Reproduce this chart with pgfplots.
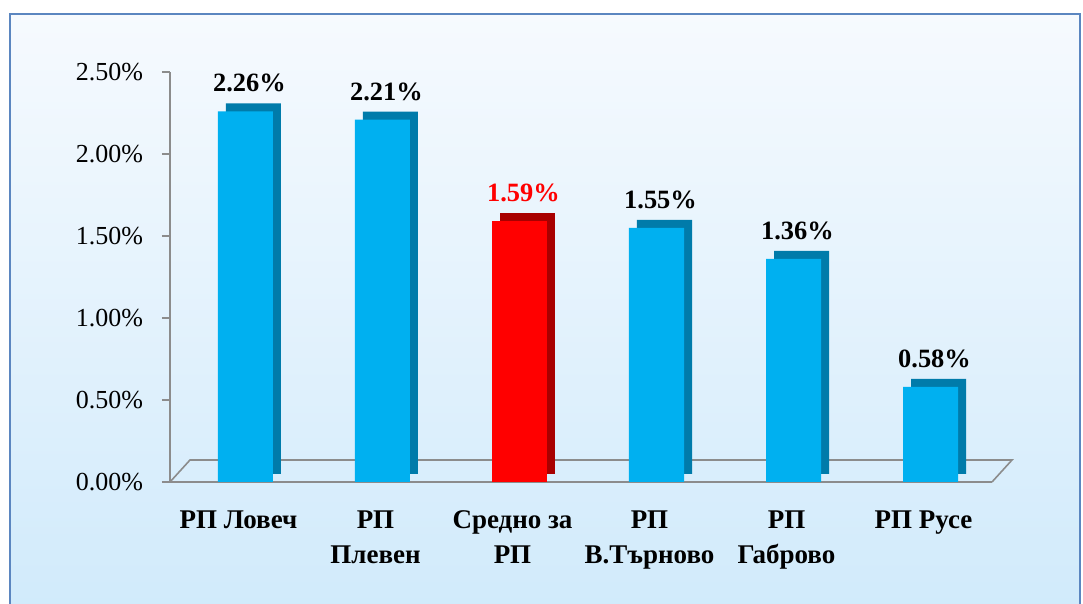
\documentclass[border=0pt]{standalone}
\usepackage{fontspec}
\setmainfont{Liberation Serif}
\usepackage{pgfplots}
\pgfplotsset{compat=1.18}
\definecolor{barblue}{HTML}{00B0F0}
\definecolor{sideblue}{HTML}{007BAA}
\definecolor{barred}{HTML}{FF0000}
\definecolor{sidered}{HTML}{A80000}
\definecolor{framecol}{HTML}{5B86C0}
\definecolor{bgtop}{HTML}{F6FAFE}
\definecolor{bgbot}{HTML}{D0EAFB}
\definecolor{axgray}{HTML}{8C8C8C}
\begin{document}
\begin{tikzpicture}
\path[use as bounding box] (-85pt,-61pt) rectangle (456.5pt,241pt);
\shade[top color=bgtop, bottom color=bgbot] (-80pt,-70pt) rectangle (455pt,234pt);
\draw[framecol, line width=1pt] (-80pt,-70pt) -- (-80pt,234pt) -- (455pt,234pt) -- (455pt,-70pt);
\begin{axis}[at={(0,0)}, anchor=south west, scale only axis,
 width=411pt, height=205pt, ybar, bar width=27.5pt,
 xmin=-0.5, xmax=5.5, ymin=0, ymax=2.5, clip=false,
 axis x line*=bottom, axis y line*=left,
 axis line style={axgray, line width=0.8pt},
 every tick/.style={axgray, line width=0.8pt},
 tick align=outside,
 ytick={0,0.5,...,2.5},
 /pgf/number format/assume math mode=true,
 yticklabel={\pgfmathprintnumber[fixed,fixed zerofill,precision=2]{\tick}\%},
 yticklabel style={font=\fontsize{13}{15}\selectfont, xshift=-6pt},
 major tick length=4pt,
 xtick={0,...,5}, x tick style={draw=none},
 minor xtick={-0.5,0.5,...,5.5}, minor tick length=5pt,
 xticklabels={{РП Ловеч},{РП\\Плевен},{Средно за\\РП},{РП\\В.Търново},{РП\\Габрово},{РП Русе}},
 xticklabel style={align=center, anchor=north, yshift=-7pt,
   font=\bfseries\fontsize{13.5}{17.5}\selectfont},
 nodes near coords={\pgfmathprintnumber[fixed,fixed zerofill,precision=2]{\pgfplotspointmeta}\%},
 every node near coord/.append style={font=\bfseries\fontsize{13.2}{15}\selectfont, yshift=6pt, xshift=2pt},
]
\draw[axgray, line width=0.8pt] (axis cs:-0.5,0) -- ++(10pt,11pt) -- ([xshift=10pt,yshift=11pt]axis cs:5.5,0) -- (axis cs:5.5,0);
\addplot[fill=sideblue, draw=none, bar shift=3.5pt, xshift=4pt, yshift=4pt, nodes near coords={}] coordinates {(0,2.26) (1,2.21) (3,1.55) (4,1.36) (5,0.58)};
\addplot[fill=barblue, draw=none, bar shift=3.5pt] coordinates {(0,2.26) (1,2.21) (3,1.55) (4,1.36) (5,0.58)};
\addplot[fill=sidered, draw=none, bar shift=3.5pt, xshift=4pt, yshift=4pt, nodes near coords={}] coordinates {(2,1.59)};
\addplot[fill=barred, draw=none, bar shift=3.5pt, every node near coord/.append style={text=red}] coordinates {(2,1.59)};
\end{axis}
\end{tikzpicture}
\end{document}
